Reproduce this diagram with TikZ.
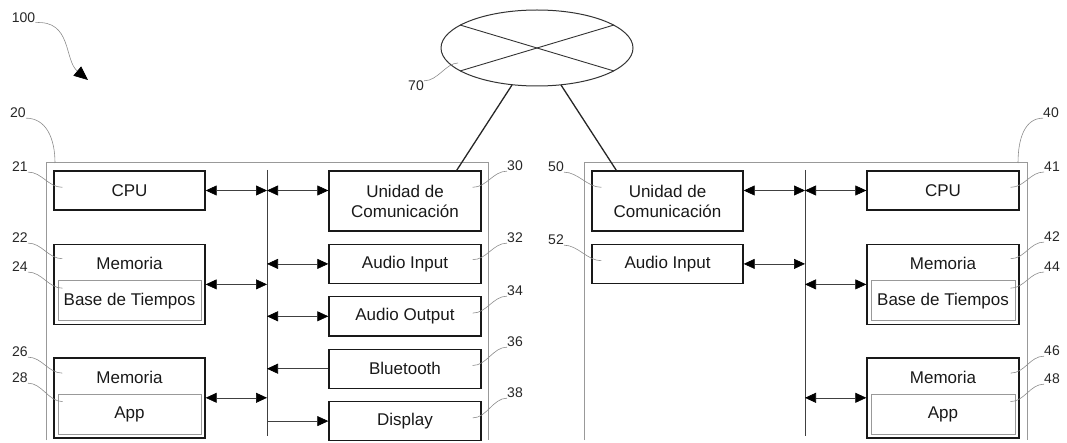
\documentclass[tikz,border=0pt]{standalone}
\usepackage{fontspec}
\setmainfont{Liberation Sans}
\usetikzlibrary{arrows.meta,positioning,shapes.geometric,calc}

\begin{document}
\begin{tikzpicture}[
x=1pt,y=-1pt,
>={Triangle[length=11pt,width=10pt,color=black]},
blk/.style={rectangle,draw=black!90,line width=1.4pt,minimum width=151pt,minimum height=39pt,inner sep=0pt,align=center,font=\fontsize{17}{20}\selectfont,text=black!90},
memblk/.style={blk,minimum height=80pt},
inbox/.style={rectangle,draw=black!40,line width=0.9pt,minimum width=143pt,minimum height=40pt,inner sep=0pt,font=\fontsize{17}{20}\selectfont,text=black!90},
txt/.style={inner sep=0pt,font=\fontsize{17}{20}\selectfont,text=black!90},
num/.style={inner sep=0pt,font=\fontsize{14}{16}\selectfont,text=black!85},
arr/.style={line width=0.6pt,draw=black!75},
lead/.style={draw=black!45,line width=0.6pt},
frm/.style={draw=black!40,line width=1pt},
bus/.style={draw=black!75,line width=0.8pt},
link/.style={draw=black!85,line width=1.3pt}
]
\useasboundingbox (0,0) rectangle (1067,443);

\node[num] (n100) at (23.5,17.5) {100};
\coordinate (p100) at (88,80);
\draw[lead,-{Triangle[length=14pt,width=12pt,color=black]}] (n100.south east) .. controls (72,20) and (64,60) .. (p100);

\node[ellipse,draw=black!80,line width=1pt,minimum width=192pt,minimum height=76pt,inner sep=0pt] (net) at (537,48) {};
\draw[line width=0.9pt,black!80] ($(net.center)+(-77,-23)$) -- ($(net.center)+(77,23)$);
\draw[line width=0.9pt,black!80] ($(net.center)+(-77,23)$) -- ($(net.center)+(77,-23)$);
\node[num] (n70) at (416,86) {70};
\draw[lead] (n70.north east) .. controls +(14,0) and +(-12,0) .. ($(net.center)+(-79,15)$);

\draw[frm] (46,440) |- (488,163) -- (488,440);
\draw[frm] (584,440) |- (1027,163) -- (1027,440);
\node[num] (n20) at (18,113) {20};
\coordinate (f20) at (55,163);
\draw[lead] (n20.south east) .. controls +(20,0) and +(0,-25) .. (f20);
\node[num] (n40) at (1051,113) {40};
\coordinate (f40) at (1018,163);
\draw[lead] (n40.south west) .. controls +(-18,0) and +(0,-25) .. (f40);

\node[blk] (cpuA) at (129.5,190.5) {CPU};
\node[memblk,below=33pt of cpuA] (memA) {};
\node[inbox,above=4pt of memA.south] (baseA) {Base de Tiempos};
\node[txt] (memAt) at ([yshift=-20pt]memA.north) {Memoria};
\node[memblk,below=32pt of memA] (memB) {};
\node[inbox,above=4pt of memB.south] (appA) {App};
\node[txt] (memBt) at ([yshift=-20pt]memB.north) {Memoria};

\node[blk,minimum width=152pt,minimum height=60pt] (comA) at (405,201) {Unidad de\\Comunicación};
\node[blk,minimum width=152pt,below=12pt of comA] (audInA) {Audio Input};
\node[blk,minimum width=152pt,below=12pt of audInA] (audOutA) {Audio Output};
\node[blk,minimum width=152pt,below=12pt of audOutA] (btA) {Bluetooth};
\node[blk,minimum width=152pt,below=12pt of btA] (dispA) {Display};

\node[blk,minimum height=60pt] (comB) at (667.5,201) {Unidad de\\Comunicación};
\node[blk,below=12pt of comB] (audInB) {Audio Input};

\node[blk,minimum width=152pt] (cpuB) at (943,190.5) {CPU};
\node[memblk,minimum width=152pt,below=33pt of cpuB] (memC) {};
\node[inbox,minimum width=144pt,above=4pt of memC.south] (baseB) {Base de Tiempos};
\node[txt] (memCt) at ([yshift=-20pt]memC.north) {Memoria};
\node[memblk,minimum width=152pt,below=32pt of memC] (memD) {};
\node[inbox,minimum width=144pt,above=4pt of memD.south] (appB) {App};
\node[txt] (memDt) at ([yshift=-20pt]memD.north) {Memoria};

\coordinate (busAt) at (267,170);
\coordinate (busAb) at (267,436);
\coordinate (busBt) at (805,170);
\coordinate (busBb) at (805,436);
\draw[bus] (busAt) -- (busAb);
\draw[bus] (busBt) -- (busBb);

\draw[link] ($(net.center)+(-25,37)$) -- ($(comA.north east)+(-25,0)$);
\draw[link] ($(net.center)+(24,37)$) -- ($(comB.north west)+(25,0)$);

\draw[arr,<->] (cpuA.east) -- (cpuA.east -| busAt);
\draw[arr,<->] (memA.east) -- (memA.east -| busAt);
\draw[arr,<->] (memB.east) -- (memB.east -| busAt);
\draw[arr,<->] (cpuA.east -| busAt) -- (cpuA.east -| comA.west);
\draw[arr,<->] (audInA.west -| busAt) -- (audInA.west);
\draw[arr,<->] (audOutA.west -| busAt) -- (audOutA.west);
\draw[arr,->] (btA.west) -- (btA.west -| busAt);
\draw[arr,->] (dispA.west -| busAt) -- (dispA.west);

\draw[arr,<->] (cpuB.west -| comB.east) -- (cpuB.west -| busBt);
\draw[arr,<->] (audInB.east) -- (audInB.east -| busBt);
\draw[arr,<->] (cpuB.west -| busBt) -- (cpuB.west);
\draw[arr,<->] (memC.west -| busBt) -- (memC.west);
\draw[arr,<->] (memD.west -| busBt) -- (memD.west);

\node[num] (n21) at (20,167) {21};
\node[num] (n22) at (20,238) {22};
\node[num] (n24) at (20,267) {24};
\node[num] (n26) at (20,352) {26};
\node[num] (n28) at (20,378) {28};
\draw[lead] (n21.south east) .. controls +(14,0) and +(-14,0) .. ($(cpuA.north west)+(9,17)$);
\draw[lead] (n22.south east) .. controls +(14,0) and +(-14,0) .. ($(memA.north west)+(9,15)$);
\draw[lead] (n24.south east) .. controls +(14,0) and +(-14,0) .. ($(baseA.north west)+(5,8)$);
\draw[lead] (n26.south east) .. controls +(14,0) and +(-14,0) .. ($(memB.north west)+(9,16)$);
\draw[lead] (n28.south east) .. controls +(14,0) and +(-14,0) .. ($(appA.north west)+(5,8)$);

\node[num] (n30) at (515,166) {30};
\node[num] (n32) at (515,238) {32};
\node[num] (n34) at (515,291) {34};
\node[num] (n36) at (515,342) {36};
\node[num] (n38) at (515,393) {38};
\draw[lead] (n30.south west) .. controls +(-14,0) and +(14,0) .. ($(comA.north east)+(-9,17)$);
\draw[lead] (n32.south west) .. controls +(-14,0) and +(14,0) .. ($(audInA.north east)+(-9,16)$);
\draw[lead] (n34.south west) .. controls +(-14,0) and +(14,0) .. ($(audOutA.north east)+(-9,17)$);
\draw[lead] (n36.south west) .. controls +(-14,0) and +(14,0) .. ($(btA.north east)+(-9,17)$);
\draw[lead] (n38.south west) .. controls +(-14,0) and +(14,0) .. ($(dispA.north east)+(-9,17)$);

\node[num] (n50) at (556,167) {50};
\node[num] (n52) at (556,240) {52};
\draw[lead] (n50.south east) .. controls +(14,0) and +(-14,0) .. ($(comB.north west)+(10,17)$);
\draw[lead] (n52.south east) .. controls +(14,0) and +(-14,0) .. ($(audInB.north west)+(10,17)$);

\node[num] (n41) at (1052,167) {41};
\node[num] (n42) at (1052,237) {42};
\node[num] (n44) at (1052,267) {44};
\node[num] (n46) at (1052,351) {46};
\node[num] (n48) at (1052,379) {48};
\draw[lead] (n41.south west) .. controls +(-14,0) and +(14,0) .. ($(cpuB.north east)+(-9,17)$);
\draw[lead] (n42.south west) .. controls +(-14,0) and +(14,0) .. ($(memC.north east)+(-9,15)$);
\draw[lead] (n44.south west) .. controls +(-14,0) and +(14,0) .. ($(baseB.north east)+(-5,8)$);
\draw[lead] (n46.south west) .. controls +(-14,0) and +(14,0) .. ($(memD.north east)+(-9,16)$);
\draw[lead] (n48.south west) .. controls +(-14,0) and +(14,0) .. ($(appB.north east)+(-5,8)$);
\end{tikzpicture}
\end{document}
